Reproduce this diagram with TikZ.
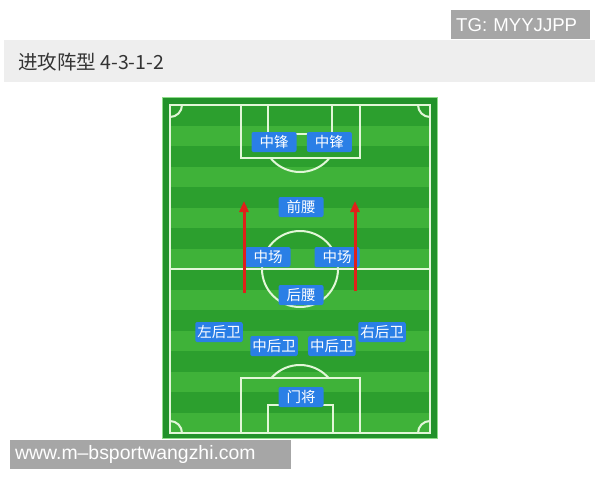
\documentclass[tikz,border=0pt]{standalone}
\usepackage{fontspec}
\setmainfont{Noto Sans CJK SC}
\newfontfamily\wmfont{Liberation Sans}
\usepackage{xcolor}
\usetikzlibrary{arrows.meta, positioning}

\definecolor{titlegray}{HTML}{EEEEEE}
\definecolor{titletext}{HTML}{333333}
\definecolor{wmgray}{HTML}{A6A6A6}
\definecolor{playerblue}{HTML}{2A7FE6}
\definecolor{pitchedge}{HTML}{22922A}
\definecolor{pitchrim}{HTML}{8FDC8A}
\definecolor{stripedark}{HTML}{2C9F2E}
\definecolor{stripelight}{HTML}{3FB239}
\definecolor{linewhite}{HTML}{E2F7D8}
\definecolor{runred}{HTML}{E0201A}

\begin{document}
\begin{tikzpicture}[
    x=1pt, y=-1pt,
    player/.style={rectangle, fill=playerblue, text=white, rounded corners=2pt, minimum width=45pt, minimum height=20pt, inner xsep=2pt, inner ysep=0pt, font=\fontsize{14.5}{14.5}\selectfont},
    pitchline/.style={draw=linewhite, line width=2pt},
    runarrow/.style={draw=runred, line width=3pt, -{Triangle[length=11pt, width=9pt]}},
    watermark/.style={fill=wmgray, text=white, align=left, inner xsep=5pt, inner ysep=0pt, minimum height=29pt, anchor=north west}
]
\useasboundingbox (0,0) rectangle (600,480);

% Title bar
\fill[titlegray] (4,40) rectangle (595,82);
\node[anchor=west, inner sep=0pt, text=titletext, font=\fontsize{19.5}{19.5}\selectfont] (title) at (18,62) {进攻阵型 4-3-1-2};

% Pitch with stripes
\fill[pitchedge] (162,97) rectangle (438,439);
\foreach \i in {0,...,15} {
    \ifodd\i \def\stripe{stripelight}\else\def\stripe{stripedark}\fi
    \fill[\stripe] (170,{105+\i*20.5}) rectangle (430,{min(433,125.5+\i*20.5)});
}
\draw[pitchrim, line width=1pt] (162.5,97.5) rectangle (437.5,438.5);

% Pitch lines
\draw[pitchline] (170,105) rectangle (430,433);
\draw[pitchline] (170,269) -- (430,269);
\draw[pitchline] (300,269) circle (38pt);
\draw[pitchline] (241,105) rectangle (360,158);
\draw[pitchline] (268,105) rectangle (332,134);
\draw[pitchline] (241,378) rectangle (360,433);
\draw[pitchline] (268,405) rectangle (333,433);
\begin{scope}
    \clip (200,159) rectangle (400,200);
    \draw[pitchline] (300,134) circle (38pt);
\end{scope}
\begin{scope}
    \clip (200,340) rectangle (400,377);
    \draw[pitchline] (300,403) circle (38pt);
\end{scope}
\begin{scope}
    \clip (170,105) rectangle (430,433);
    \foreach \c in {(170,105),(430,105),(170,433),(430,433)}
        \draw[pitchline] \c circle (12pt);
\end{scope}

% Players
\node[player] (cfL) at (274,142) {中锋};
\node[player, right=10pt of cfL] (cfR) {中锋};
\node[player] (am) at (301,207) {前腰};
\node[player] (cmL) at (268,257) {中场};
\node[player] (cmR) at (337,257) {中场};
\node[player] (dm) at (301,295) {后腰};
\node[player] (lb) at (219,332) {左后卫};
\node[player] (rb) at (382,332) {右后卫};
\node[player] (cbL) at (274,346) {中后卫};
\node[player, right=10pt of cbL] (cbR) {中后卫};
\node[player] (gk) at (301,397) {门将};

% Forward runs
\coordinate (runLfrom) at (244,293);
\coordinate (runLto) at (244,201);
\coordinate (runRfrom) at (355,291);
\coordinate (runRto) at (355,201);
\draw[runarrow] (runLfrom) -- (runLto);
\draw[runarrow] (runRfrom) -- (runRto);

% Watermarks
\node[watermark, text width=129pt, font=\wmfont\fontsize{18.6}{18.6}\selectfont] (tg) at (451,10) {TG: MYYJJPP};
\node[watermark, text width=271pt, font=\wmfont\fontsize{19.4}{19.4}\selectfont] (site) at (10,440) {www.m–bsportwangzhi.com};

\end{tikzpicture}
\end{document}
